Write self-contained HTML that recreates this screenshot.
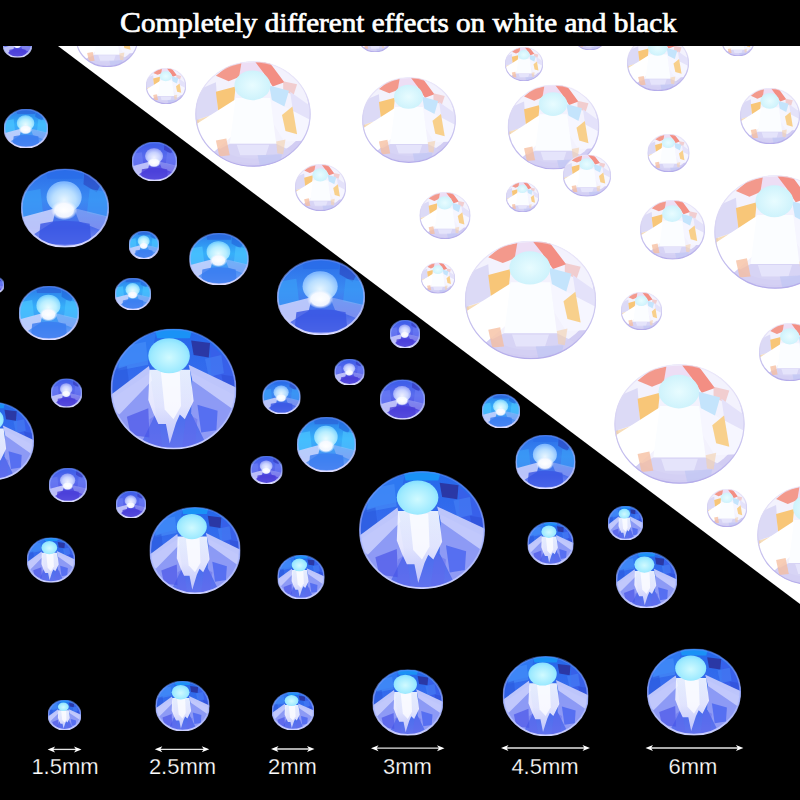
<!DOCTYPE html>
<html><head><meta charset="utf-8"><title>Rhinestones</title>
<style>
html,body{margin:0;padding:0;background:#000;}
body{width:800px;height:800px;overflow:hidden;position:relative;}
svg{position:absolute;left:0;top:0;}
.title{position:absolute;left:0;top:0;width:800px;height:46px;background:#000;color:#fff;
 font-family:"Liberation Serif",serif;font-weight:normal;font-size:26px;line-height:46px;white-space:nowrap;-webkit-text-stroke:0.7px #fff;}
.title span.t{position:absolute;left:120px;top:0px;transform:scale(1.12,1.05);transform-origin:0 31px;}
.title span.c{font-size:28px;}
.lab{position:absolute;top:755px;-webkit-text-stroke:0.25px #000;width:120px;text-align:center;color:#fff;font-family:"Liberation Sans",sans-serif;font-size:22px;line-height:24px;}
</style></head><body>
<svg width="800" height="800" viewBox="0 0 800 800">

<defs>
 <linearGradient id="bbase" x1="0" y1="0" x2="0" y2="1">
  <stop offset="0" stop-color="#2468ea"/>
  <stop offset=".5" stop-color="#3a6cee"/>
  <stop offset="1" stop-color="#6272ee"/>
 </linearGradient>
 <linearGradient id="bray" x1="0" y1="0" x2="0" y2="1">
  <stop offset="0" stop-color="#f4f8ff"/>
  <stop offset=".5" stop-color="#eeeeff"/>
  <stop offset="1" stop-color="#c8ccfc"/>
 </linearGradient>
 <radialGradient id="btable" cx=".5" cy=".55" r=".6">
  <stop offset="0" stop-color="#d0faff"/>
  <stop offset=".7" stop-color="#9eeaff"/>
  <stop offset="1" stop-color="#7adcff"/>
 </radialGradient>
 <linearGradient id="brim" x1="0" y1="0" x2="0" y2="1">
  <stop offset="0" stop-color="#5a8cf8" stop-opacity=".5"/>
  <stop offset=".5" stop-color="#a0b0ff" stop-opacity=".7"/>
  <stop offset="1" stop-color="#ccd0ff"/>
 </linearGradient>
 <linearGradient id="wbase" x1="0" y1="0" x2="0" y2="1">
  <stop offset="0" stop-color="#eeeefc"/>
  <stop offset=".5" stop-color="#f6f4fe"/>
  <stop offset="1" stop-color="#d8d2f6"/>
 </linearGradient>
 <radialGradient id="wtable" cx=".5" cy=".5" r=".6">
  <stop offset="0" stop-color="#e8fcff"/>
  <stop offset=".8" stop-color="#cff3fc"/>
  <stop offset="1" stop-color="#c4eefa"/>
 </radialGradient>
 <linearGradient id="wrim" x1="0" y1="0" x2="0" y2="1">
  <stop offset="0" stop-color="#ece8fa" stop-opacity=".6"/>
  <stop offset=".5" stop-color="#d4d0f2"/>
  <stop offset="1" stop-color="#b4acea"/>
 </linearGradient>

 <linearGradient id="tcbase" x1="0" y1="0" x2="0" y2="1">
  <stop offset="0" stop-color="#2a78e8"/><stop offset=".4" stop-color="#36b0fa"/><stop offset=".75" stop-color="#4a90f4"/><stop offset="1" stop-color="#8ea8f8"/>
 </linearGradient>
 <linearGradient id="tbbase" x1="0" y1="0" x2="0" y2="1">
  <stop offset="0" stop-color="#2a6ce8"/><stop offset=".4" stop-color="#3a8af2"/><stop offset=".75" stop-color="#4a6aea"/><stop offset="1" stop-color="#8c98f4"/>
 </linearGradient>
 <linearGradient id="tvbase" x1="0" y1="0" x2="0" y2="1">
  <stop offset="0" stop-color="#3a5ae8"/><stop offset=".4" stop-color="#5a6cee"/><stop offset=".75" stop-color="#5048e0"/><stop offset="1" stop-color="#9088f0"/>
 </linearGradient>
 <radialGradient id="tctab" cx=".5" cy=".6" r=".55">
  <stop offset="0" stop-color="#e8fcff"/><stop offset=".6" stop-color="#b8eeff"/><stop offset=".9" stop-color="#8edcff"/><stop offset="1" stop-color="#78d0ff"/>
 </radialGradient>
 <radialGradient id="tbtab" cx=".5" cy=".6" r=".55">
  <stop offset="0" stop-color="#e8f6ff"/><stop offset=".6" stop-color="#b8deff"/><stop offset=".9" stop-color="#90c4ff"/><stop offset="1" stop-color="#80b8ff"/>
 </radialGradient>
 <radialGradient id="tvtab" cx=".5" cy=".6" r=".55">
  <stop offset="0" stop-color="#eef0ff"/><stop offset=".6" stop-color="#c8d2ff"/><stop offset=".9" stop-color="#a4b0fa"/><stop offset="1" stop-color="#98a4f6"/>
 </radialGradient>
 <radialGradient id="tblob" cx=".5" cy=".5" r=".5">
  <stop offset="0" stop-color="#ffffff"/><stop offset=".7" stop-color="#f8faff" stop-opacity=".95"/><stop offset="1" stop-color="#e8f0ff" stop-opacity="0"/>
 </radialGradient>
 <linearGradient id="trim" x1="0" y1="0" x2="0" y2="1">
  <stop offset="0" stop-color="#6a90f8" stop-opacity=".5"/><stop offset=".5" stop-color="#a8b8ff" stop-opacity=".7"/><stop offset="1" stop-color="#dcdcff"/>
 </linearGradient>
 <clipPath id="cc" clipPathUnits="userSpaceOnUse"><circle cx="100" cy="100" r="99"/></clipPath>
 <clipPath id="tri"><polygon points="58,46 800,46 800,604"/></clipPath>
 <clipPath id="ntri"><polygon points="0,46 58,46 800,604 800,800 0,800"/></clipPath>
</defs>
<symbol id="bg" viewBox="0 0 200 200" preserveAspectRatio="none">
 <g clip-path="url(#cc)">
 <rect x="0" y="0" width="200" height="200" fill="url(#bbase)"/>
 <polygon points="70,0 130,0 126,16 74,16" fill="#1a92f6"/>
 <polygon points="24,20 72,8 64,52 10,64" fill="#2f7cf2" opacity=".8"/>
 <polygon points="128,20 158,24 156,48 132,44" fill="#2a2c94" opacity=".8"/>
 <polygon points="158,26 198,62 200,104 160,96" fill="#3a5ee8" opacity=".8"/>
 <polygon points="18,30 56,22 60,60 12,70" fill="#4a92fa" opacity=".55"/>
 <polygon points="0,70 26,62 30,96 0,108" fill="#2a58dc" opacity=".6"/>
 <polygon points="150,50 176,44 180,74 156,80" fill="#4a86f8" opacity=".5"/>
 <polygon points="176,76 200,80 200,100 180,98" fill="#2f4ed6" opacity=".6"/>
 <polygon points="0,200 0,118 62,74 72,140 44,200" fill="#9aa2f6" opacity=".85"/>
 <polygon points="200,200 200,112 130,74 128,140 156,200" fill="#9aa2f6" opacity=".85"/>
 <polygon points="61,62 0,110 0,130 14,142 66,86" fill="#c4cafc" opacity=".95"/>
 <polygon points="124,60 200,98 200,126 192,132 130,86" fill="#c4cafc" opacity=".95"/>
 <polygon points="26,146 60,132 62,180 32,176" fill="#4a56e8" opacity=".7"/>
 <polygon points="138,126 170,136 168,168 144,172" fill="#3e5cf0" opacity=".7"/>
 <polygon points="62,150 76,140 82,198 60,192" fill="#6068ea" opacity=".45"/>
 <polygon points="120,140 138,150 134,194 114,198" fill="#6068ea" opacity=".45"/>
 <polygon points="62,68 126,68 132,120 118,150 110,142 104,156 94,190 88,158 76,158 68,140 60,118" fill="url(#bray)" opacity=".92"/>
 <polygon points="80,72 110,72 112,128 100,150 86,134" fill="#ffffff" opacity=".75"/>
 <ellipse cx="93" cy="45" rx="33" ry="29" fill="url(#btable)"/>
 </g>
 <circle cx="100" cy="100" r="98.5" fill="none" stroke="url(#brim)" stroke-width="1.8" vector-effect="non-scaling-stroke"/>
</symbol>
<symbol id="tc" viewBox="0 0 200 200" preserveAspectRatio="none">
 <g clip-path="url(#cc)">
 <rect x="0" y="0" width="200" height="200" fill="url(#tcbase)"/>
 <polygon points="56,0 144,0 140,26 60,26" fill="#2a64d8" opacity=".75"/>
 <polygon points="144,4 184,34 172,60 142,40" fill="#1f5fd8" opacity=".55"/>
 <polygon points="2,60 44,52 50,112 0,124" fill="#4cc4ff" opacity=".7"/>
 <polygon points="198,60 156,52 150,112 200,124" fill="#4cc4ff" opacity=".6"/>
 <polygon points="80,100 0,124 16,176 72,136" fill="#d6dafe" opacity=".8"/>
 <polygon points="120,100 200,122 190,160 132,134" fill="#c0c6fa" opacity=".4"/>
 <path d="M44,140 Q100,124 156,140 L160,186 Q100,200 40,186 Z" fill="#3a7cf0" opacity=".8"/>
 <ellipse cx="98" cy="72" rx="40" ry="40" fill="url(#tctab)"/>
 <ellipse cx="98" cy="106" rx="30" ry="25" fill="url(#tblob)"/>
 </g>
 <circle cx="100" cy="100" r="98.5" fill="none" stroke="url(#trim)" stroke-width="1.8" vector-effect="non-scaling-stroke"/>
</symbol>
<symbol id="tb" viewBox="0 0 200 200" preserveAspectRatio="none">
 <g clip-path="url(#cc)">
 <rect x="0" y="0" width="200" height="200" fill="url(#tbbase)"/>
 <polygon points="56,0 144,0 140,26 60,26" fill="#2a6ce8" opacity=".75"/>
 <polygon points="144,4 184,34 172,60 142,40" fill="#2a3cb8" opacity=".55"/>
 <polygon points="2,60 44,52 50,112 0,124" fill="#3a9cf6" opacity=".7"/>
 <polygon points="198,60 156,52 150,112 200,124" fill="#3a9cf6" opacity=".6"/>
 <polygon points="80,100 0,124 16,176 72,136" fill="#d6dafe" opacity=".8"/>
 <polygon points="120,100 200,122 190,160 132,134" fill="#c0c6fa" opacity=".4"/>
 <path d="M44,140 Q100,124 156,140 L160,186 Q100,200 40,186 Z" fill="#3a56e4" opacity=".8"/>
 <ellipse cx="98" cy="72" rx="40" ry="40" fill="url(#tbtab)"/>
 <ellipse cx="98" cy="106" rx="30" ry="25" fill="url(#tblob)"/>
 </g>
 <circle cx="100" cy="100" r="98.5" fill="none" stroke="url(#trim)" stroke-width="1.8" vector-effect="non-scaling-stroke"/>
</symbol>
<symbol id="tv" viewBox="0 0 200 200" preserveAspectRatio="none">
 <g clip-path="url(#cc)">
 <rect x="0" y="0" width="200" height="200" fill="url(#tvbase)"/>
 <polygon points="56,0 144,0 140,26 60,26" fill="#4060e8" opacity=".75"/>
 <polygon points="144,4 184,34 172,60 142,40" fill="#3030b0" opacity=".55"/>
 <polygon points="2,60 44,52 50,112 0,124" fill="#6a7cf4" opacity=".7"/>
 <polygon points="198,60 156,52 150,112 200,124" fill="#6a7cf4" opacity=".6"/>
 <polygon points="80,100 0,124 16,176 72,136" fill="#d6dafe" opacity=".8"/>
 <polygon points="120,100 200,122 190,160 132,134" fill="#c0c6fa" opacity=".4"/>
 <path d="M44,140 Q100,124 156,140 L160,186 Q100,200 40,186 Z" fill="#4a3ed8" opacity=".8"/>
 <ellipse cx="98" cy="72" rx="40" ry="40" fill="url(#tvtab)"/>
 <ellipse cx="98" cy="106" rx="30" ry="25" fill="url(#tblob)"/>
 </g>
 <circle cx="100" cy="100" r="98.5" fill="none" stroke="url(#trim)" stroke-width="1.8" vector-effect="non-scaling-stroke"/>
</symbol>
<symbol id="wg" viewBox="0 0 200 200" preserveAspectRatio="none">
 <g clip-path="url(#cc)">
 <rect x="0" y="0" width="200" height="200" fill="#d2cdf3"/>
 <ellipse cx="100" cy="92" rx="96" ry="92" fill="#f3f2fd"/>
 <polygon points="78,4 106,2 118,22 100,26 76,30" fill="#ecdcf4" opacity=".9"/>
 <polygon points="36,28 56,10 80,4 76,30 58,38" fill="#f29486" opacity=".95"/>
 <polygon points="104,2 128,2 154,40 134,48 118,22" fill="#f2887c" opacity=".95"/>
 <polygon points="152,38 176,44 170,64 152,56" fill="#f0b4b0" opacity=".6"/>
 <polygon points="2,56 36,40 40,98 0,112" fill="#dcdaf6"/>
 <polygon points="36,58 70,48 66,90 40,94" fill="#f8c678"/>
 <polygon points="128,46 162,56 152,94 134,82" fill="#c4e4fc"/>
 <polygon points="164,58 200,86 200,120 172,118" fill="#e4e2fa"/>
 <polygon points="2,112 24,104 20,140 4,150" fill="#f8d49a" opacity=".7"/>
 <polygon points="70,72 4,118 8,148 32,172 70,136" fill="#ffffff"/>
 <polygon points="130,72 200,112 196,150 154,152 136,120" fill="#f6f6ff"/>
 <polygon points="150,102 168,86 176,138 156,132" fill="#f8cc80" opacity=".9"/>
 <polygon points="70,70 130,70 140,156 60,156" fill="#fbfdff"/>
 <polygon points="32,172 60,156 140,156 166,170 160,186 100,194 40,186" fill="#d4d0f4" opacity=".9"/>
 <polygon points="36,150 54,146 60,178 42,180" fill="#f6bc9c" opacity=".75"/>
 <polygon points="140,152 156,148 152,176 142,174" fill="#f4d0ac" opacity=".6"/>
 <polygon points="72,158 128,158 122,178 78,178" fill="#e8e6fb" opacity=".85"/>
 <polygon points="108,178 150,176 146,196 112,198" fill="#bcc4f4" opacity=".6"/>
 <ellipse cx="99" cy="46" rx="31" ry="28" fill="url(#wtable)"/>
 </g>
 <circle cx="100" cy="100" r="98.5" fill="none" stroke="url(#wrim)" stroke-width="1.2" vector-effect="non-scaling-stroke"/>
</symbol>
<rect x="0" y="0" width="800" height="800" fill="#000"/>
<g clip-path="url(#ntri)">
<use href="#tv" x="3" y="31.5" width="29" height="26"/>
<use href="#tc" x="4" y="109" width="44" height="39"/>
<use href="#tv" x="132" y="142" width="45" height="39"/>
<use href="#tb" x="21" y="168.5" width="88" height="79"/>
<use href="#tc" x="129" y="231" width="30" height="28"/>
<use href="#tc" x="189.3" y="233" width="59.4" height="52"/>
<use href="#tc" x="19" y="286" width="60" height="54"/>
<use href="#tc" x="115" y="278" width="36" height="32"/>
<use href="#tv" x="-14" y="277" width="18" height="16"/>
<use href="#bg" x="110.5" y="328.5" width="126" height="121"/>
<use href="#tb" x="277" y="259" width="88" height="76"/>
<use href="#tv" x="390" y="320" width="30" height="28"/>
<use href="#tv" x="334.5" y="359" width="30" height="26"/>
<use href="#tb" x="262.5" y="380" width="38" height="34"/>
<use href="#tv" x="380" y="379.5" width="45" height="40"/>
<use href="#tv" x="51" y="378.5" width="31" height="29"/>
<use href="#bg" x="-48" y="402" width="82" height="78"/>
<use href="#tv" x="49" y="468" width="38" height="34"/>
<use href="#tv" x="116" y="491" width="30" height="27"/>
<use href="#bg" x="27" y="537.5" width="48" height="45"/>
<use href="#bg" x="149.5" y="507" width="91" height="87"/>
<use href="#tc" x="297" y="417" width="59" height="55"/>
<use href="#tv" x="250.5" y="456" width="32" height="28"/>
<use href="#bg" x="277.5" y="555" width="47" height="44"/>
<use href="#bg" x="359" y="471" width="126" height="118"/>
<use href="#tc" x="482" y="394" width="38" height="34"/>
<use href="#tb" x="515.5" y="435" width="60" height="54"/>
<use href="#bg" x="527.5" y="522" width="46" height="43"/>
<use href="#bg" x="608" y="506" width="35" height="34"/>
<use href="#bg" x="616" y="552" width="61" height="56"/>
<use href="#bg" x="48" y="700" width="33" height="30"/>
<use href="#bg" x="155.5" y="681" width="54" height="50"/>
<use href="#bg" x="272" y="692" width="42" height="38"/>
<use href="#bg" x="372.45" y="669.5" width="70.6" height="66"/>
<use href="#bg" x="502.7" y="656" width="85.8" height="80"/>
<use href="#bg" x="647" y="648.6" width="94" height="86.8"/>
</g>
<polygon points="58,46 800,46 800,604" fill="#fff"/>
<g clip-path="url(#tri)">
<use href="#wg" x="76" y="11" width="62" height="56"/>
<use href="#wg" x="146" y="68" width="40" height="36"/>
<use href="#wg" x="195" y="61" width="116" height="106"/>
<use href="#wg" x="358" y="22" width="34" height="30"/>
<use href="#wg" x="362" y="77" width="94" height="86"/>
<use href="#wg" x="295" y="164" width="51" height="47"/>
<use href="#wg" x="505" y="47" width="38" height="34"/>
<use href="#wg" x="507.5" y="84.5" width="92" height="85"/>
<use href="#wg" x="573" y="20" width="34" height="30"/>
<use href="#wg" x="563" y="154.5" width="48" height="42"/>
<use href="#wg" x="506" y="182" width="33" height="30"/>
<use href="#wg" x="419.5" y="192" width="51" height="47"/>
<use href="#wg" x="627" y="35" width="62" height="56"/>
<use href="#wg" x="722" y="28" width="32" height="28"/>
<use href="#wg" x="740" y="88" width="60" height="56"/>
<use href="#wg" x="647.5" y="134" width="42" height="38"/>
<use href="#wg" x="640" y="200" width="65" height="59.5"/>
<use href="#wg" x="714" y="175" width="122" height="114"/>
<use href="#wg" x="621" y="292" width="41" height="38"/>
<use href="#wg" x="759" y="323" width="62" height="58"/>
<use href="#wg" x="614" y="364" width="131" height="120"/>
<use href="#wg" x="707" y="489" width="40" height="38"/>
<use href="#wg" x="757" y="485" width="106" height="100"/>
<use href="#wg" x="464.5" y="240.5" width="132" height="119"/>
<use href="#wg" x="421" y="262.5" width="34" height="31"/>
</g>
<line x1="50.6" y1="749.4" x2="78.5" y2="749.4" stroke="#e4e4e4" stroke-width="1.3"/>
<polygon points="47.6,749.4 55.1,746.4 53.1,749.4 55.1,752.4" fill="#fff"/>
<polygon points="81.5,749.4 74,746.4 76,749.4 74,752.4" fill="#fff"/>
<line x1="157.8" y1="749.3" x2="206.3" y2="749.3" stroke="#e4e4e4" stroke-width="1.3"/>
<polygon points="154.8,749.3 162.3,746.3 160.3,749.3 162.3,752.3" fill="#fff"/>
<polygon points="209.3,749.3 201.8,746.3 203.8,749.3 201.8,752.3" fill="#fff"/>
<line x1="274" y1="749" x2="311.5" y2="749" stroke="#e4e4e4" stroke-width="1.3"/>
<polygon points="271,749 278.5,746 276.5,749 278.5,752" fill="#fff"/>
<polygon points="314.5,749 307,746 309,749 307,752" fill="#fff"/>
<line x1="374" y1="748.2" x2="441.5" y2="748.2" stroke="#e4e4e4" stroke-width="1.3"/>
<polygon points="371,748.2 378.5,745.2 376.5,748.2 378.5,751.2" fill="#fff"/>
<polygon points="444.5,748.2 437,745.2 439,748.2 437,751.2" fill="#fff"/>
<line x1="504" y1="748" x2="587" y2="748" stroke="#e4e4e4" stroke-width="1.3"/>
<polygon points="501,748 508.5,745 506.5,748 508.5,751" fill="#fff"/>
<polygon points="590,748 582.5,745 584.5,748 582.5,751" fill="#fff"/>
<line x1="648.5" y1="748" x2="740.4" y2="748" stroke="#e4e4e4" stroke-width="1.3"/>
<polygon points="645.5,748 653,745 651,748 653,751" fill="#fff"/>
<polygon points="743.4,748 735.9,745 737.9,748 735.9,751" fill="#fff"/>
</svg>
<div class="title"><span class="t"><span class="c">C</span>ompletely different effects on white and black</span></div>
<div class="lab" style="left:5px">1.5mm</div>
<div class="lab" style="left:122.5px">2.5mm</div>
<div class="lab" style="left:232.5px">2mm</div>
<div class="lab" style="left:347.5px">3mm</div>
<div class="lab" style="left:485px">4.5mm</div>
<div class="lab" style="left:633px">6mm</div>
</body></html>
